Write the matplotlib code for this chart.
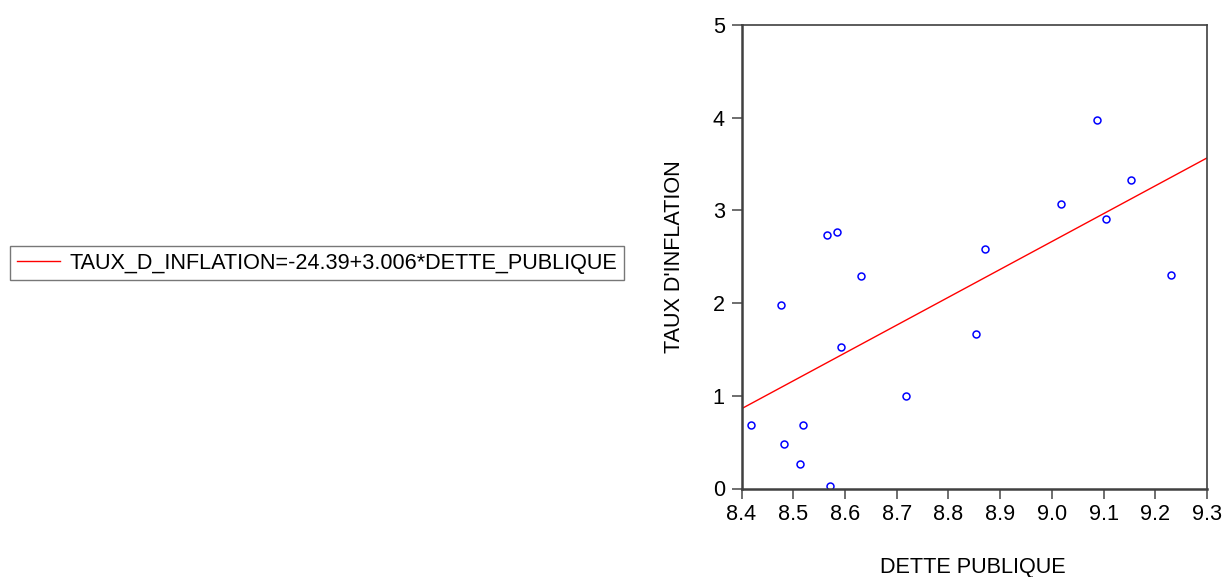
import matplotlib
matplotlib.use("Agg")
import matplotlib.pyplot as plt
import numpy as np

plt.rcParams['font.family'] = ['Liberation Sans', 'DejaVu Sans']

dette_publique = [8.418, 8.476, 8.483, 8.514, 8.518, 8.565, 8.584, 8.571, 8.592,
                  8.632, 8.718, 8.854, 8.871, 9.018, 9.088, 9.105, 9.153, 9.230]
taux_inflation = [0.68, 1.98, 0.48, 0.26, 0.69, 2.74, 2.77, 0.03, 1.53,
                  2.29, 1.00, 1.67, 2.58, 3.07, 3.98, 2.91, 3.33, 2.30]
intercept = -24.39
slope = 3.006
x_ticks = [8.4, 8.5, 8.6, 8.7, 8.8, 8.9, 9.0, 9.1, 9.2, 9.3]
y_ticks = [0, 1, 2, 3, 4, 5]
legend_label = "TAUX_D_INFLATION=-24.39+3.006*DETTE_PUBLIQUE"

FS = 15.6

fig = plt.figure(figsize=(12.28, 5.77), dpi=100)
ax = fig.add_axes([741.5/1228, 1 - 488.5/577, (1207 - 741.5)/1228, (488.5 - 25)/577])

ax.plot(dette_publique, taux_inflation, linestyle='none', marker='o',
        markersize=5, markerfacecolor='none', markeredgecolor='#0000ff',
        markeredgewidth=1.1)
xl = np.array([x_ticks[0], x_ticks[-1]])
line, = ax.plot(xl, intercept + slope * xl, color='#ff0000', linewidth=1.0,
                label=legend_label)

ax.set_xlim(x_ticks[0], x_ticks[-1])
ax.set_ylim(y_ticks[0], y_ticks[-1])
ax.set_xticks(x_ticks)
ax.set_xticklabels([f"{v:.1f}" for v in x_ticks])
ax.set_yticks(y_ticks)
ax.tick_params(axis='both', direction='out', length=7, width=1.2,
               color='#555555', labelsize=FS, labelcolor='#000000')
ax.tick_params(axis='x', pad=4)
ax.tick_params(axis='y', pad=5)

for side in ['left', 'bottom']:
    ax.spines[side].set_linewidth(1.8)
    ax.spines[side].set_color('#404040')
for side in ['top', 'right']:
    ax.spines[side].set_linewidth(1.2)
    ax.spines[side].set_color('#404040')

fig.text(973/1228, 1 - 567/577, "DETTE PUBLIQUE", ha='center', va='center', fontsize=FS)
fig.text(675/1228, 1 - 257/577, "TAUX D'INFLATION", ha='center', va='center',
         rotation=90, fontsize=FS)

leg = fig.legend(handles=[line], loc='center left',
                 bbox_to_anchor=(10/1228, 1 - 263.5/577), frameon=True,
                 fancybox=False, fontsize=FS, handlelength=2.0,
                 borderpad=0.3, handletextpad=0.45, borderaxespad=0)
leg.get_frame().set_edgecolor('#555555')
leg.get_frame().set_linewidth(1.0)

fig.savefig("out.png", dpi=100)
